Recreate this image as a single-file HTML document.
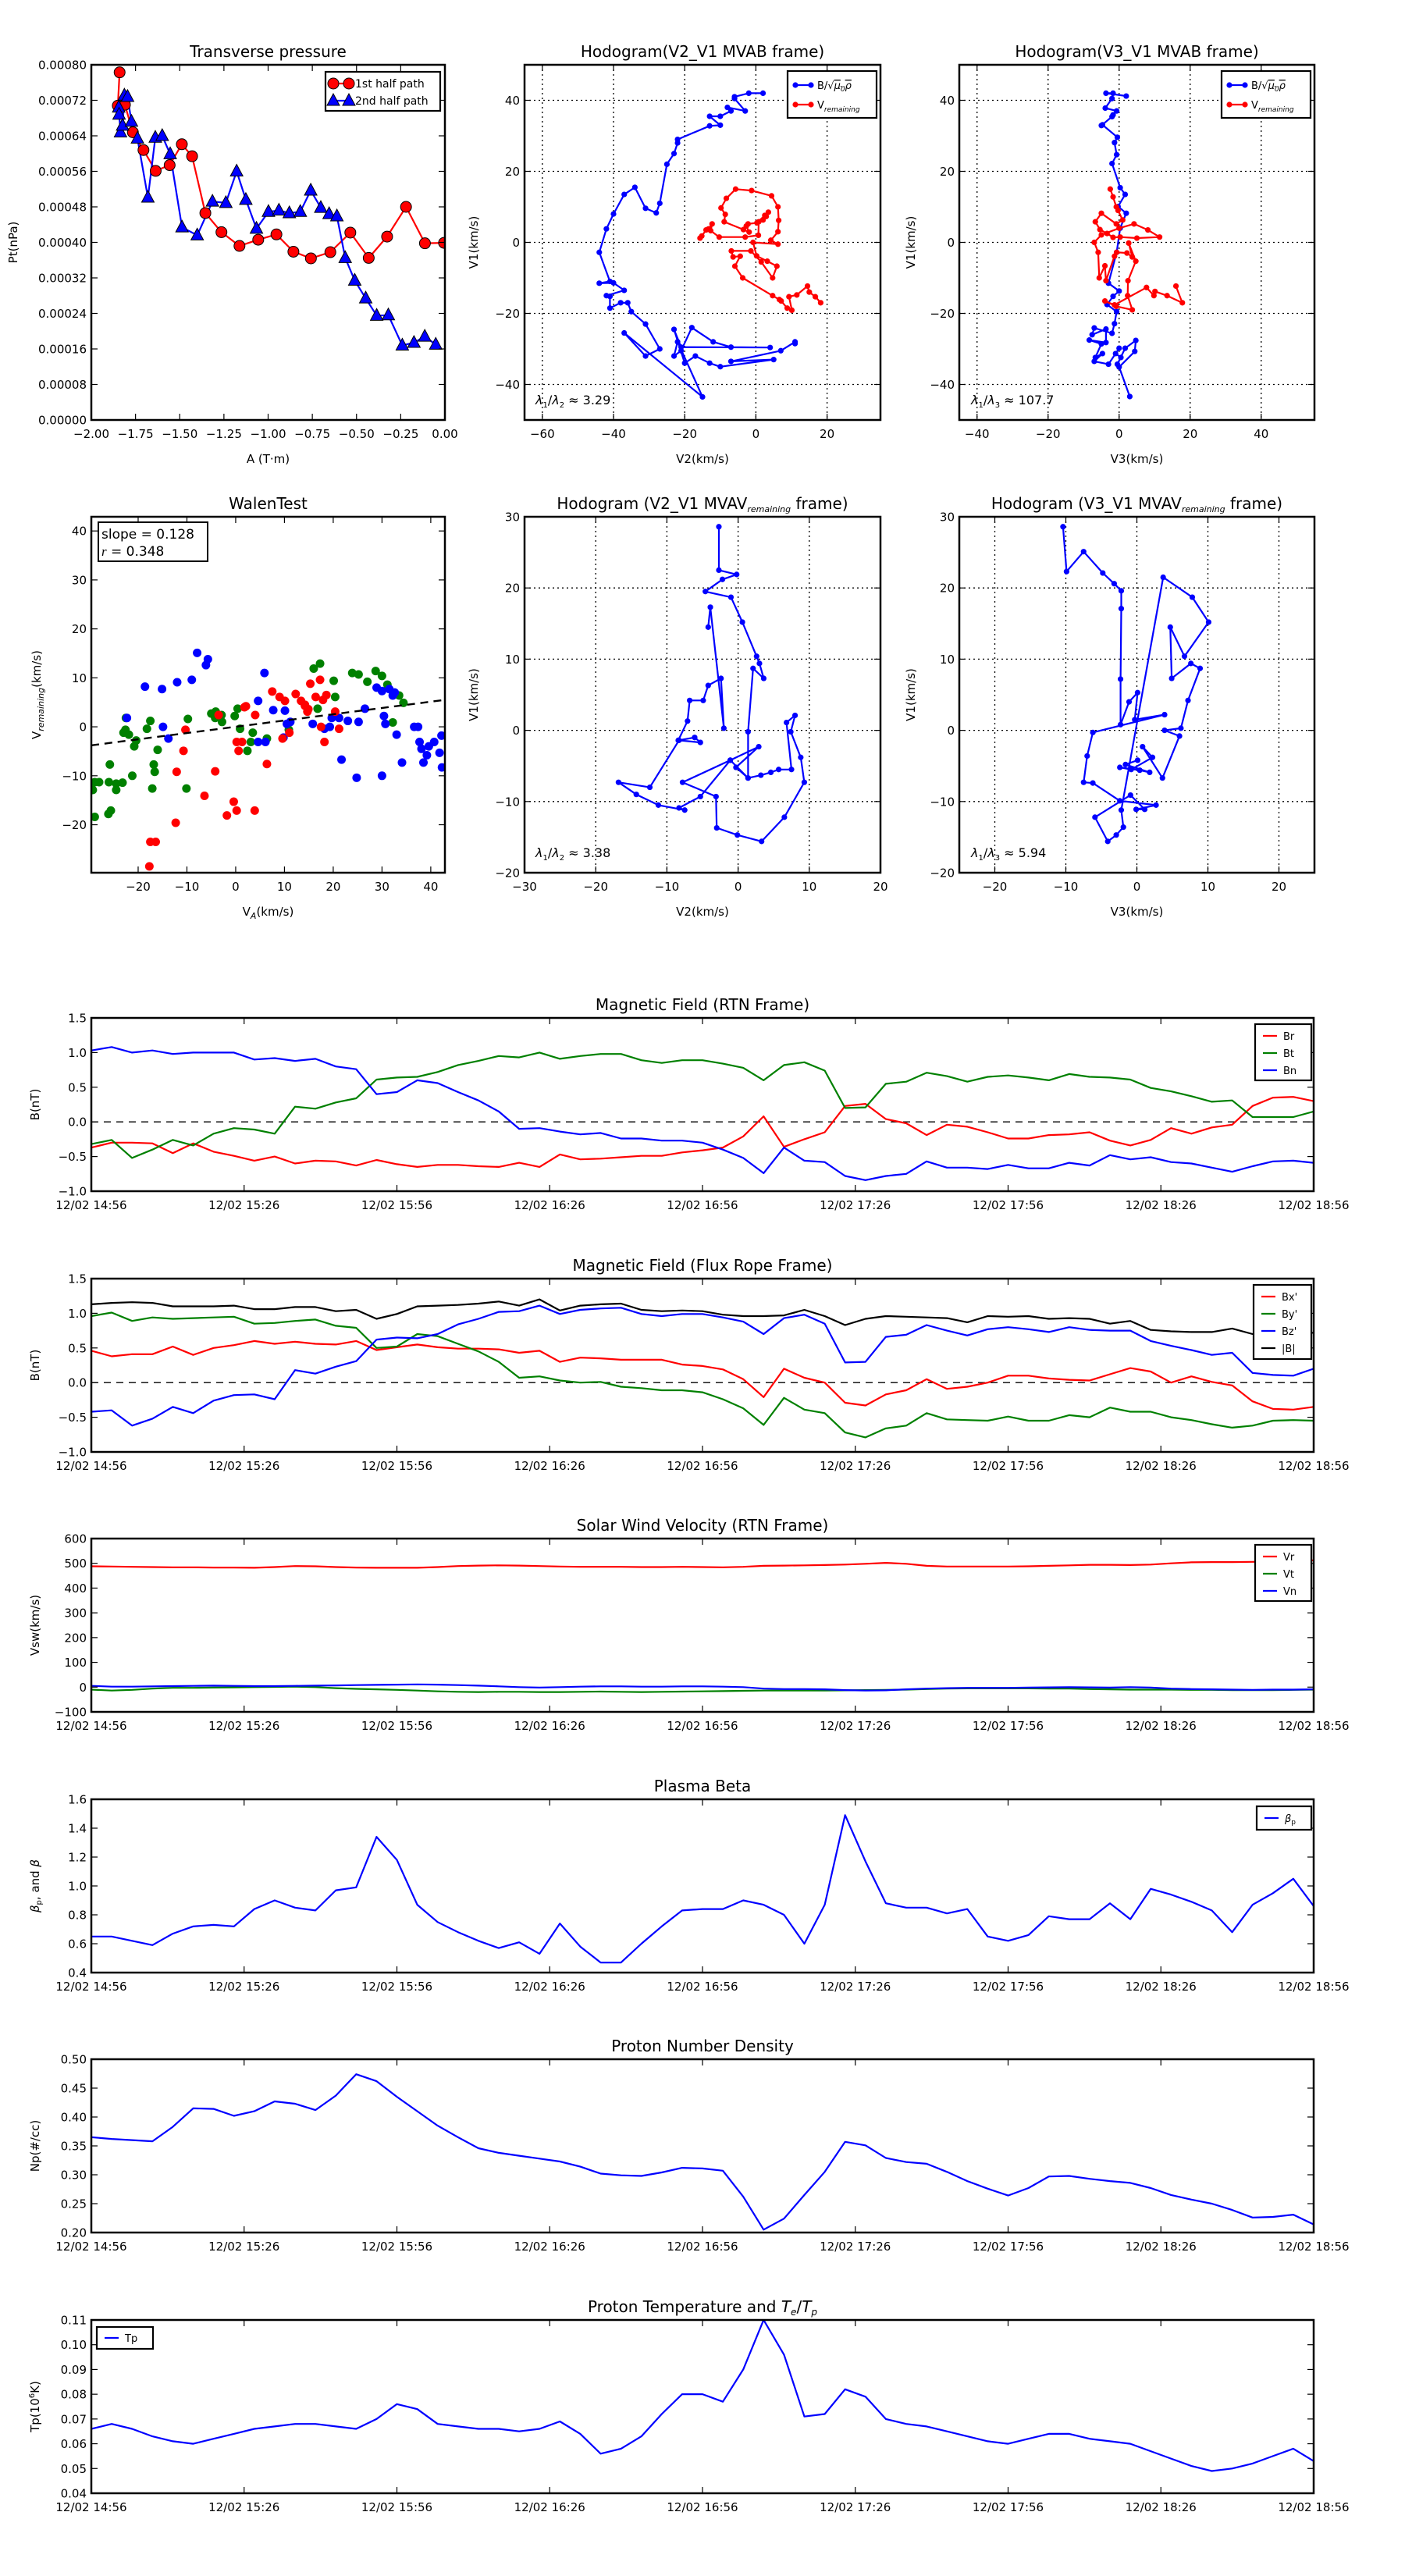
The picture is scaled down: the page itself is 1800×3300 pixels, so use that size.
<!DOCTYPE html>
<html><head><meta charset="utf-8"><style>
html,body{margin:0;padding:0;background:#fff;}
svg{display:block;font-family:"DejaVu Sans","Liberation Sans",sans-serif;}
</style></head><body>
<svg id="fig" width="1800" height="3300" viewBox="0 0 1800 3300"></svg>
<script>
// ---------- data ----------
const ptA1=[-1.84,-1.85,-1.81,-1.765,-1.705,-1.636,-1.557,-1.488,-1.43,-1.355,-1.264,-1.162,-1.056,-0.953,-0.857,-0.758,-0.648,-0.535,-0.431,-0.327,-0.22,-0.113,-0.005];
const ptP1=[0.000783,0.000708,0.00071,0.000648,0.000608,0.000561,0.000574,0.000621,0.000594,0.000466,0.000423,0.000392,0.000406,0.000418,0.000379,0.000364,0.000378,0.000422,0.000365,0.000413,0.00048,0.000398,0.000399];
const ptA2=[-1.845,-1.843,-1.835,-1.823,-1.813,-1.795,-1.773,-1.739,-1.68,-1.638,-1.599,-1.554,-1.487,-1.401,-1.315,-1.239,-1.178,-1.126,-1.066,-0.998,-0.939,-0.88,-0.818,-0.759,-0.702,-0.655,-0.611,-0.564,-0.51,-0.448,-0.386,-0.32,-0.241,-0.175,-0.114,-0.052];
const ptP2=[0.000704,0.000688,0.000648,0.000663,0.000731,0.000728,0.000672,0.000634,0.000501,0.000636,0.00064,0.000599,0.000434,0.000416,0.000492,0.000489,0.00056,0.000496,0.000431,0.000469,0.000472,0.000466,0.000469,0.000517,0.000478,0.000464,0.000459,0.000365,0.000314,0.000274,0.000235,0.000236,0.000168,0.000174,0.000188,0.00017];

const h2bV2=[2,-2,-6,-6,-3,-8,-7,-10,-13,-10,-13,-22,-22,-23,-25,-27,-28,-31,-34,-37,-40,-42,-44,-41,-44,-40,-37,-42,-41,-41,-38,-36,-35,-31,-27,-31,-37,-15,-22,-23,-21,-18,-12,-7,4,-21,-23,-20,-17,-13,-10,5,-7,7,11,11];
const h2bV1=[42,42,41,40.5,37,38,37,35.5,35.5,33,32.8,29,28,25,22,11,8.3,9.6,15.5,13.5,8,3.8,-2.8,-11,-11.5,-11.4,-13.5,-15,-15.2,-18.5,-17,-17,-19.5,-23,-30,-32,-25.5,-43.5,-28,-32,-30.5,-24,-28,-29.5,-29.6,-29.5,-24.5,-34,-32,-34,-35,-33,-33.5,-30.5,-28,-28.5];
const h2vV2=[-15.7,-15.2,-14,-13.3,-12.3,-12.7,-10.3,-3,0.7,0.8,2,2.9,3.5,2.5,0.3,-2.2,-2.7,-1.9,-3.5,-8.9,-8.6,-9.8,-8.3,-5.7,-1.2,4.4,6.2,6.4,6.2,4.2,6.2,-0.8,0.2,3.2,5.9,4.7,1.5,-1.4,-6.9,-6.4,-4.4,-5.9,-3.7,4.7,6.6,7.1,8.8,10.1,9.3,11.5,14.5,15,16.7,18.2];
const h2vV1=[1.2,1.8,3.5,3.8,5.2,3.3,1.5,1.5,2,5.8,6.3,7.3,8.5,7.6,5.5,5.2,4.6,2.9,3.6,5.8,7.9,9.7,12.4,15,14.6,13.1,10,6.2,3,0.6,-0.5,0,-3.8,-5.3,-6.7,-10,-5.5,-2.4,-2.4,-4.1,-3.9,-6.7,-10,-15,-16.1,-16.5,-18.5,-19.1,-15.3,-14.8,-12.3,-14,-15.3,-17];
const h3bV3=[2,-3.7,-1.7,-2,-3.9,-0.7,-1.7,-2,-5,-4.7,-0.5,-1.3,-0.7,-2,0.3,1.7,-0.3,2,0.3,-0.7,-3,0,-1.7,-3.4,-0.7,-1.3,-2,-7,-7.6,-3.7,-3.7,-8.4,-5,-6.7,-4.7,-7,-3,0,-1,0.5,-0.5,1.7,4.7,4.4,0,3];
const h3bV1=[41.2,42,42,40.5,37.8,37,35.9,35.4,32.9,33.1,29.6,28.1,24.7,22.2,15.4,13.5,10.1,8.2,4,-2.8,-11.5,-13.7,-15.2,-17.5,-19.5,-22.9,-25.6,-24.1,-26,-24.4,-28.2,-27.5,-28.6,-32.4,-31.3,-33.5,-34.3,-29.8,-31.3,-32.4,-34.3,-29.8,-27.6,-30.7,-35.1,-43.4];
const h3vV3=[-2.5,-1.7,-0.8,-0.3,1,-0.8,-5,-6.7,-5.4,-3.4,-1.7,0.3,5,11.4,8.1,4.2,0,-5,-7,-5.9,-5.6,-4,-3.7,-1.3,-0.7,2.2,3.7,2.7,4.7,2.5,2.4,3.7,-0.8,-4,-1.3,7.7,9.8,10.1,13.5,17.8,16];
const h3vV1=[15,12.8,10,9,6.3,5.2,8.2,5.8,3.6,2.5,1.4,1.5,1.2,1.5,3.5,5.2,4,2.1,0,-2.8,-10,-6.6,-10.8,-3.9,-2.8,-3,-4.1,-0.2,-5.3,-10.8,-15,-19,-18,-16.5,-17.6,-12.7,-15,-13.8,-15,-17,-12.3];

const wGreenVA=[-28.9,-28,-29.3,-25.8,-26,-24.5,-23.2,-24.5,-28.9,-26.1,-25.6,-21.2,-23,-22.6,-21.9,-20.8,-20.4,-18.2,-17.5,-16,-16.8,-16.6,-17.1,-10.1,-9.8,-5,-4.1,-2.9,-2.8,-4.2,-0.2,0.4,0.9,2.4,3.1,3.5,6.4,16,17.3,20.4,16.8,20.1,23.9,25.2,27,28.7,30,31.1,33.5,34.4,32.2,10.9,-22.5];
const wGreenV=[-11.3,-11.3,-12.9,-7.7,-11.3,-12.9,-11.4,-11.6,-18.4,-17.8,-17.1,-10,-1.2,-0.6,-1.6,-4,-2.8,-0.4,1.2,-4.7,-7.7,-9.2,-12.6,-12.6,1.6,2.7,3.1,2.4,1,1.8,2.2,3.7,-0.4,-4.9,-3.1,-1.2,-2.4,11.9,12.9,6.1,3.7,9.4,11,10.7,9.2,11.4,10.4,8.6,6.4,4.9,0.9,-0.6,1.8];
const wBlueVA=[-7.9,-5.7,-6.1,-9,-12,-15.1,-18.6,-22.3,-14.9,-13.8,5.9,4.6,7.7,10.1,6.1,4.6,9.8,10.5,11.2,19.3,21.2,23,25.2,21.7,24.8,26.5,28.9,30,31.5,32.2,32.6,30.4,30.7,33,30,34.1,36.6,37.4,37.7,38.1,38.5,39.2,39.6,40.7,41.8,42.2,42.3,19.7,18.2,15.8];
const wBlueV=[15.1,13.8,12.6,9.6,9.1,7.7,8.2,1.8,0,-2.4,11,5.3,3.4,3.3,-3.1,-3.1,-2.2,0.6,1,0,1.8,1.2,1,-6.7,-10.4,3.7,8,7.3,7.7,6.4,7,2.2,0.6,-1.6,-10,-7.3,0,0,-3.1,-4.5,-7.3,-5.8,-4,-3.1,-5.3,-1.8,-8.3,1.8,-0.4,0.6];
const wRedVA=[-17.7,-17.5,-16.4,-12.3,-12.1,-10.7,-10.3,-6.4,-4.2,-1.8,-0.4,0.2,3.9,0.2,1.3,0.6,1.8,6.4,7.5,9,10.1,9.6,11,12.3,13.4,14.2,14.9,15.3,17.3,16.4,17.9,18.6,20.4,17.5,18.2,21.2,14.7,14.2,-3.5,2.1,4];
const wRedV=[-28.5,-23.5,-23.5,-19.6,-9.2,-4.9,-0.6,-14.1,-9.1,-18.1,-15.3,-17.1,-17.1,-3.1,-3.1,-4.9,4,-7.6,7.2,6.1,5.3,-2.4,-1.2,6.7,5.3,4.3,3.6,8.8,9.6,6.1,5.5,6.5,3.1,0,-3.1,-0.4,3.1,4.5,2.4,4.2,2.4];
const walenSlope=0.128, walenIntercept=0.0;

const r2V2=[-2.7,-2.7,-0.2,-2.2,-4.6,-1,0.6,2.6,3,3.6,2.1,1.4,1.4,-0.3,2.9,-1.1,-7.8,-3.1,-3,-0.1,3.3,6.5,9.3,8.8,7.4,8,6.8,7.5,5.7,4.6,3.2,1.4,-1.1,-5.3,-8.3,-7.5,-11.2,-14.3,-16.8,-12.4,-8.3,-5.3,-6.1,-8.4,-7.1,-6.8,-4.9,-4.2,-2.4,-2,-3.9,-4.2];
const r2V1=[28.6,22.5,21.9,21.2,19.5,18.7,15.2,10.4,9.4,7.3,8.7,-0.2,-6.7,-5.2,-2.3,-4.2,-7.3,-9.3,-13.7,-14.7,-15.6,-12.2,-7.3,-3.8,-0.2,2.1,1.1,-5.5,-5.5,-5.9,-6.3,-6.7,-4.2,-9.3,-10.9,-11.2,-10.5,-9,-7.3,-8,-1.4,-1.7,-1,-1.4,1.3,4.2,4.2,6.3,7.3,0.3,17.3,14.5];
const r3V3=[-10.4,-9.9,-7.5,-4.8,-3.2,-2.2,-2.2,-2.3,-2.3,-1.1,0.1,-0.3,3.9,-6.2,-7,-7.5,-6.2,-2.4,2.7,-0.1,1.1,-0.9,-5.9,-4.1,-2.9,-1.9,-2.2,3.7,7.8,10.1,6.7,4.7,4.9,7.6,8.9,7.2,6.2,3.9,6,3.6,0.8,2.2,-0.8,-2.4,0.4,1.8,-1.6,0.1];
const r3V1=[28.6,22.3,25.1,22.1,20.6,19.6,17.1,7.2,0.8,4,5.3,1.5,2.2,-0.3,-3.6,-7.3,-7.4,-9.9,-10.5,-11.1,-11.1,-9.1,-12.2,-15.6,-14.7,-13.6,-11.2,21.5,18.7,15.2,10.4,14.5,7.3,9.4,8.7,4.2,0.3,0,-0.8,-6.7,-2.3,-3.8,-5.5,-5.2,-5.6,-5.9,-4.8,-4.2];

const timeTickLabels=["12/02 14:56","12/02 15:26","12/02 15:56","12/02 16:26","12/02 16:56","12/02 17:26","12/02 17:56","12/02 18:26","12/02 18:56"];
const Br=[-0.37,-0.3,-0.3,-0.31,-0.45,-0.31,-0.43,-0.49,-0.56,-0.5,-0.6,-0.56,-0.57,-0.63,-0.55,-0.61,-0.65,-0.62,-0.62,-0.64,-0.65,-0.59,-0.65,-0.47,-0.54,-0.53,-0.51,-0.49,-0.49,-0.44,-0.41,-0.37,-0.21,0.08,-0.36,-0.25,-0.15,0.23,0.26,0.04,-0.02,-0.19,-0.04,-0.07,-0.15,-0.24,-0.24,-0.19,-0.18,-0.15,-0.27,-0.34,-0.26,-0.09,-0.17,-0.08,-0.04,0.23,0.35,0.36,0.3];
const Bt=[-0.32,-0.26,-0.52,-0.4,-0.26,-0.34,-0.17,-0.09,-0.11,-0.17,0.22,0.19,0.28,0.34,0.61,0.64,0.65,0.72,0.82,0.88,0.95,0.93,1.0,0.91,0.95,0.98,0.98,0.89,0.85,0.89,0.89,0.84,0.78,0.6,0.82,0.86,0.74,0.2,0.21,0.55,0.58,0.71,0.66,0.58,0.65,0.67,0.64,0.6,0.69,0.65,0.64,0.61,0.49,0.44,0.37,0.29,0.31,0.07,0.07,0.07,0.15];
const Bn=[1.03,1.08,1.0,1.03,0.98,1.0,1.0,1.0,0.9,0.92,0.88,0.91,0.8,0.76,0.4,0.43,0.6,0.56,0.43,0.31,0.15,-0.1,-0.09,-0.14,-0.18,-0.16,-0.24,-0.24,-0.27,-0.27,-0.3,-0.4,-0.52,-0.74,-0.37,-0.56,-0.58,-0.78,-0.84,-0.78,-0.75,-0.57,-0.66,-0.66,-0.68,-0.62,-0.67,-0.67,-0.59,-0.63,-0.48,-0.54,-0.51,-0.58,-0.6,-0.66,-0.72,-0.64,-0.57,-0.56,-0.59];
const Bx=[0.46,0.38,0.41,0.41,0.52,0.4,0.5,0.54,0.6,0.56,0.59,0.56,0.55,0.6,0.47,0.51,0.55,0.51,0.49,0.49,0.48,0.43,0.46,0.3,0.36,0.35,0.33,0.33,0.33,0.26,0.24,0.19,0.05,-0.21,0.2,0.07,0.0,-0.29,-0.33,-0.17,-0.11,0.05,-0.09,-0.06,0.0,0.1,0.1,0.06,0.04,0.03,0.12,0.21,0.16,0.0,0.09,0.01,-0.04,-0.27,-0.38,-0.39,-0.35];
const By=[0.96,1.01,0.89,0.94,0.92,0.93,0.94,0.95,0.85,0.86,0.89,0.91,0.82,0.79,0.5,0.52,0.7,0.67,0.56,0.45,0.3,0.07,0.09,0.03,0.0,0.01,-0.06,-0.08,-0.11,-0.11,-0.14,-0.24,-0.37,-0.61,-0.22,-0.39,-0.44,-0.72,-0.79,-0.66,-0.62,-0.44,-0.53,-0.54,-0.55,-0.49,-0.55,-0.55,-0.47,-0.5,-0.36,-0.42,-0.42,-0.5,-0.54,-0.6,-0.65,-0.62,-0.55,-0.54,-0.55];
const Bz=[-0.42,-0.4,-0.62,-0.52,-0.35,-0.44,-0.26,-0.18,-0.17,-0.24,0.18,0.13,0.23,0.31,0.62,0.65,0.64,0.7,0.84,0.92,1.02,1.03,1.11,0.99,1.05,1.07,1.08,0.99,0.96,0.99,0.99,0.94,0.88,0.7,0.93,0.98,0.85,0.29,0.3,0.66,0.69,0.83,0.75,0.68,0.77,0.8,0.77,0.73,0.8,0.76,0.75,0.75,0.6,0.53,0.47,0.4,0.43,0.14,0.11,0.1,0.2];
const Bmag=[1.13,1.15,1.16,1.15,1.1,1.1,1.1,1.11,1.06,1.06,1.09,1.09,1.03,1.05,0.92,0.99,1.1,1.11,1.12,1.14,1.17,1.11,1.2,1.04,1.11,1.13,1.14,1.05,1.03,1.04,1.03,0.98,0.96,0.96,0.97,1.05,0.96,0.83,0.92,0.96,0.95,0.94,0.93,0.87,0.96,0.95,0.96,0.92,0.93,0.92,0.85,0.89,0.76,0.74,0.73,0.73,0.78,0.7,0.72,0.7,0.72];
const Vr=[488,487,486,485,484,484,483,483,482,485,489,488,485,483,482,482,482,485,489,491,492,491,489,487,486,486,486,485,485,486,485,484,486,490,491,492,493,495,498,502,498,490,487,487,487,487,488,490,492,494,494,493,495,500,504,505,505,506,507,510,512];
const Vt=[-10,-14,-11,-6,-3,-3,-2,-1,0,1,2,0,-4,-7,-9,-11,-14,-17,-19,-20,-19,-19,-20,-20,-19,-18,-19,-20,-19,-18,-17,-16,-15,-14,-14,-14,-14,-13,-12,-11,-10,-8,-6,-5,-5,-5,-5,-6,-6,-8,-9,-10,-10,-10,-11,-11,-12,-12,-12,-11,-10];
const Vn=[5,2,2,3,4,5,6,5,4,4,5,6,7,8,9,10,11,10,8,6,3,0,-2,0,2,3,3,2,2,3,3,2,0,-6,-8,-8,-9,-12,-14,-13,-9,-6,-4,-3,-3,-3,-2,-1,0,-1,-2,0,-2,-6,-8,-9,-10,-11,-10,-10,-9];
const betaP=[0.65,0.65,0.62,0.59,0.67,0.72,0.73,0.72,0.84,0.9,0.85,0.83,0.97,0.99,1.34,1.18,0.87,0.75,0.68,0.62,0.57,0.61,0.53,0.74,0.58,0.47,0.47,0.6,0.72,0.83,0.84,0.84,0.9,0.87,0.8,0.6,0.87,1.49,1.17,0.88,0.85,0.85,0.81,0.84,0.65,0.62,0.66,0.79,0.77,0.77,0.88,0.77,0.98,0.94,0.89,0.83,0.68,0.87,0.95,1.05,0.86];
const Np=[0.365,0.362,0.36,0.358,0.383,0.415,0.414,0.402,0.41,0.427,0.423,0.412,0.437,0.474,0.462,0.435,0.41,0.385,0.365,0.346,0.338,0.333,0.328,0.323,0.314,0.302,0.299,0.298,0.304,0.312,0.311,0.307,0.262,0.205,0.224,0.265,0.305,0.357,0.351,0.329,0.322,0.319,0.305,0.289,0.276,0.264,0.277,0.297,0.298,0.293,0.289,0.286,0.277,0.265,0.257,0.25,0.239,0.226,0.227,0.231,0.214];
const Tp=[0.066,0.068,0.066,0.063,0.061,0.06,0.062,0.064,0.066,0.067,0.068,0.068,0.067,0.066,0.07,0.076,0.074,0.068,0.067,0.066,0.066,0.065,0.066,0.069,0.064,0.056,0.058,0.063,0.072,0.08,0.08,0.077,0.09,0.11,0.096,0.071,0.072,0.082,0.079,0.07,0.068,0.067,0.065,0.063,0.061,0.06,0.062,0.064,0.064,0.062,0.061,0.06,0.057,0.054,0.051,0.049,0.05,0.052,0.055,0.058,0.053];
const sampleMinutes=4;

// ---------- helpers ----------
const NS='http://www.w3.org/2000/svg';
const svg=document.getElementById('fig');
function mk(tag,parent){const e=document.createElementNS(NS,tag);parent.appendChild(e);return e;}
function at(e,o){for(const k in o)e.setAttribute(k,o[k]);return e;}
function fmtNum(v,d){const s=Math.abs(v).toFixed(d);return (v<-1e-12?'\u2212':'')+s;}
let clipN=0;
function makeAxes(s){
  const g=mk('g',svg);
  
  
  const W=s.x1-s.x0,H=s.y1-s.y0;
  const sx=v=>s.x0+(v-s.xl[0])/(s.xl[1]-s.xl[0])*W;
  const sy=v=>s.y1-(v-s.yl[0])/(s.yl[1]-s.yl[0])*H;
  const cid='clip'+(clipN++);
  const cp=at(mk('clipPath',g),{id:cid});
  at(mk('rect',cp),{x:s.x0,y:s.y0,width:W,height:H});
  if(s.grid){
    s.xt.forEach(v=>{const l=at(mk('line',g),{x1:sx(v),x2:sx(v),y1:s.y0,y2:s.y1,stroke:'#000','stroke-width':1.3,'stroke-dasharray':'2,4'});
      
      });
    s.yt.forEach(v=>{const l=at(mk('line',g),{x1:s.x0,x2:s.x1,y1:sy(v),y2:sy(v),stroke:'#000','stroke-width':1.3,'stroke-dasharray':'2,4'});
      
      });
  }
  const data=at(mk('g',g),{'clip-path':'url(#'+cid+')'});
  
  
  const ticks=mk('g',g);
  
  
  s.xt.forEach((v,i)=>{const x=sx(v);
    at(mk('line',ticks),{x1:x,x2:x,y1:s.y1,y2:s.y1-8,stroke:'#000','stroke-width':1.2});
    at(mk('line',ticks),{x1:x,x2:x,y1:s.y0,y2:s.y0+8,stroke:'#000','stroke-width':1.2});
    const t=at(mk('text',ticks),{x:x,y:s.y1+23,'text-anchor':'middle','font-size':15});
    t.textContent=s.xlab?s.xlab[i]:fmtNum(v,s.xd);
    
    });
  s.yt.forEach(v=>{const y=sy(v);
    at(mk('line',ticks),{x1:s.x0,x2:s.x0+8,y1:y,y2:y,stroke:'#000','stroke-width':1.2});
    at(mk('line',ticks),{x1:s.x1,x2:s.x1-8,y1:y,y2:y,stroke:'#000','stroke-width':1.2});
    const t=at(mk('text',ticks),{x:s.x0-6,y:y+5.5,'text-anchor':'end','font-size':15});
    t.textContent=fmtNum(v,s.yd);
    
    });
  const fr=at(mk('rect',g),{x:s.x0,y:s.y0,width:W,height:H,fill:'none',stroke:'#000','stroke-width':2.5});
  
  
  const tt=at(mk('text',g),{x:(s.x0+s.x1)/2,y:s.y0-10,'text-anchor':'middle','font-size':20});
  tt.innerHTML=s.title;
  
  
  if(s.xlabel){const t=at(mk('text',g),{x:(s.x0+s.x1)/2,y:s.y1+55,'text-anchor':'middle','font-size':15});
    t.innerHTML=s.xlabel;
    
    }
  if(s.ylabel){const cx=s.ylx,cy=(s.y0+s.y1)/2;const t=at(mk('text',g),{x:cx,y:cy,'text-anchor':'middle','font-size':15,transform:'rotate(-90 '+cx+' '+cy+')'});
    t.innerHTML=s.ylabel;
    
    }
  return {g,data,sx,sy};
}
function line(ax,xs,ys,color,name,w){
  const p=at(mk('polyline',ax.data),{points:xs.map((x,i)=>ax.sx(x).toFixed(1)+','+ax.sy(ys[i]).toFixed(1)).join(' '),fill:'none',stroke:color,'stroke-width':w||2.2,'stroke-linejoin':'round'});
  
  
  return p;
}
function dots(ax,xs,ys,color,r,name,stroke){
  const g=mk('g',ax.data);
  
  
  xs.forEach((x,i)=>{at(mk('circle',g),{cx:ax.sx(x),cy:ax.sy(ys[i]),r:r,fill:color,stroke:stroke||'none','stroke-width':1});});
}
function tris(ax,xs,ys,color,name){
  const g=mk('g',ax.data);
  
  
  xs.forEach((x,i)=>{const cx=ax.sx(x),cy=ax.sy(ys[i]);
    at(mk('polygon',g),{points:(cx)+','+(cy-9)+' '+(cx-8)+','+(cy+6)+' '+(cx+8)+','+(cy+6),fill:color,stroke:'#000','stroke-width':1});});
}
function legend(ax,x,y,w,h,entries,name,fs){
  const g=mk('g',ax.g);
  
  
  at(mk('rect',g),{x:x,y:y,width:w,height:h,fill:'#fff',stroke:'#000','stroke-width':2.2});
  entries.forEach((e,i)=>{const yy=y+e.dy;
    const le=mk('g',g);
    
    
    at(mk('line',le),{x1:x+10,x2:x+10+e.len,y1:yy,y2:yy,stroke:e.c,'stroke-width':2.2});
    if(e.m==='o'){[x+10,x+10+e.len].forEach(cx=>at(mk('circle',le),{cx:cx,cy:yy,r:e.r,fill:e.c,stroke:e.ms||'none'}));}
    if(e.m==='^'){[x+10,x+10+e.len].forEach(cx=>at(mk('polygon',le),{points:cx+','+(yy-9)+' '+(cx-8)+','+(yy+6)+' '+(cx+8)+','+(yy+6),fill:e.c,stroke:'#000'}));}
    const t=at(mk('text',le),{x:x+18+e.len,y:yy+5,'font-size':fs||15});
    t.innerHTML=e.t;});
}
function note(ax,x,y,html,name,fs){const t=at(mk('text',ax.g),{x:x,y:y,'font-size':fs||16});
  t.innerHTML=html;
  
  }
function range(a,b,s){const r=[];for(let v=a;v<=b+1e-9;v+=s)r.push(+v.toFixed(8));return r;}

// ---------- row 1 ----------
const pt=makeAxes({name:'transverse-pressure-chart',x0:117,x1:570,y0:83,y1:538,xl:[-2,0],yl:[0,0.0008],xt:range(-2,0,0.25),yt:range(0,0.0008,0.00008),xd:2,yd:5,title:'Transverse pressure',xlabel:'A (T\u00B7m)',ylabel:'Pt(nPa)',ylx:22});
line(pt,ptA1,ptP1,'#ff0000','first-half-line');
line(pt,ptA2,ptP2,'#0000ff','second-half-line');
dots(pt,ptA1,ptP1,'#ff0000',7,'first-half-markers','#000');
tris(pt,ptA2,ptP2,'#0000ff','second-half-markers');
legend(pt,417,92,147,50,[{c:'#ff0000',m:'o',r:7,ms:'#000',len:20,dy:15,t:'1st half path'},{c:'#0000ff',m:'^',len:20,dy:37,t:'2nd half path'}],'pressure-legend',14);

const BL='B/\u221A<tspan style="text-decoration:overline" font-style="italic">\u03BC<tspan font-size="9" dy="3">0</tspan><tspan dy="-3">\u03C1</tspan></tspan>';
const VL='V<tspan font-size="9" dy="4" font-style="italic">remaining</tspan>';
const h2=makeAxes({name:'hodogram-v2-v1-mvab',x0:672,x1:1128,y0:83,y1:538,xl:[-65,35],yl:[-50,50],xt:range(-60,20,20),yt:range(-40,40,20),xd:0,yd:0,grid:true,title:'Hodogram(V2_V1 MVAB frame)',xlabel:'V2(km/s)',ylabel:'V1(km/s)',ylx:612});
line(h2,h2bV2,h2bV1,'#0000ff','b-hodogram-line');dots(h2,h2bV2,h2bV1,'#0000ff',3.6,'b-hodogram-points');
line(h2,h2vV2,h2vV1,'#ff0000','v-hodogram-line');dots(h2,h2vV2,h2vV1,'#ff0000',3.6,'v-hodogram-points');
legend(h2,1009,91,114,60,[{c:'#0000ff',m:'o',r:3.6,len:20,dy:18,t:BL},{c:'#ff0000',m:'o',r:3.6,len:20,dy:43,t:VL}],'hodogram-legend',13);
note(h2,686,518,'<tspan font-style="italic">\u03BB</tspan><tspan font-size="10" dy="4">1</tspan><tspan dy="-4">/</tspan><tspan font-style="italic">\u03BB</tspan><tspan font-size="10" dy="4">2</tspan><tspan dy="-4"> \u2248 3.29</tspan>','eigenvalue-ratio');

const h3=makeAxes({name:'hodogram-v3-v1-mvab',x0:1229,x1:1684,y0:83,y1:538,xl:[-45,55],yl:[-50,50],xt:range(-40,40,20),yt:range(-40,40,20),xd:0,yd:0,grid:true,title:'Hodogram(V3_V1 MVAB frame)',xlabel:'V3(km/s)',ylabel:'V1(km/s)',ylx:1172});
line(h3,h3bV3,h3bV1,'#0000ff','b-hodogram-line');dots(h3,h3bV3,h3bV1,'#0000ff',3.6,'b-hodogram-points');
line(h3,h3vV3,h3vV1,'#ff0000','v-hodogram-line');dots(h3,h3vV3,h3vV1,'#ff0000',3.6,'v-hodogram-points');
legend(h3,1565,91,114,60,[{c:'#0000ff',m:'o',r:3.6,len:20,dy:18,t:BL},{c:'#ff0000',m:'o',r:3.6,len:20,dy:43,t:VL}],'hodogram-legend',13);
note(h3,1244,518,'<tspan font-style="italic">\u03BB</tspan><tspan font-size="10" dy="4">1</tspan><tspan dy="-4">/</tspan><tspan font-style="italic">\u03BB</tspan><tspan font-size="10" dy="4">3</tspan><tspan dy="-4"> \u2248 107.7</tspan>','eigenvalue-ratio');

// ---------- row 2 ----------
const wl=makeAxes({name:'walen-test-chart',x0:117,x1:570,y0:662,y1:1118,xl:[-29.6,42.9],yl:[-29.8,42.9],xt:range(-20,40,10),yt:range(-20,40,10),xd:0,yd:0,title:'WalenTest',xlabel:'V<tspan font-size="11" dy="4" font-style="italic">A</tspan><tspan dy="-4">(km/s)</tspan>',ylabel:'V<tspan font-size="11" dy="4" font-style="italic">remaining</tspan><tspan dy="-4">(km/s)</tspan>',ylx:52});
dots(wl,wGreenVA,wGreenV,'#008000',5.5,'walen-green-points');
dots(wl,wBlueVA,wBlueV,'#0000ff',5.5,'walen-blue-points');
dots(wl,wRedVA,wRedV,'#ff0000',5.5,'walen-red-points');
const fitX=[-29.6,42.9];
const fl=line(wl,fitX,fitX.map(x=>walenSlope*x+walenIntercept),'#000','walen-fit-line',2.4);
fl.setAttribute('stroke-dasharray','10,7');
(function(){const g=mk('g',wl.g);


at(mk('rect',g),{x:126,y:669,width:140,height:50,fill:'#fff',stroke:'#000','stroke-width':2});
const a=at(mk('text',g),{x:130,y:690,'font-size':17});a.textContent='slope = 0.128';
const b=at(mk('text',g),{x:130,y:712,'font-size':17});b.innerHTML='<tspan font-style="italic" font-family="Liberation Serif, serif">r</tspan> = 0.348';})();

const RL='<tspan font-size="11" dy="4" font-style="italic">remaining</tspan><tspan dy="-4">';
const q2=makeAxes({name:'hodogram-v2-v1-mvav',x0:672,x1:1128,y0:662,y1:1118,xl:[-30,20],yl:[-20,30],xt:range(-30,20,10),yt:range(-20,30,10),xd:0,yd:0,grid:true,title:'Hodogram (V2_V1 MVAV'+RL+' frame)</tspan>',xlabel:'V2(km/s)',ylabel:'V1(km/s)',ylx:612});
line(q2,r2V2,r2V1,'#0000ff','hodogram-line');dots(q2,r2V2,r2V1,'#0000ff',3.6,'hodogram-points');
note(q2,686,1098,'<tspan font-style="italic">\u03BB</tspan><tspan font-size="10" dy="4">1</tspan><tspan dy="-4">/</tspan><tspan font-style="italic">\u03BB</tspan><tspan font-size="10" dy="4">2</tspan><tspan dy="-4"> \u2248 3.38</tspan>','eigenvalue-ratio');
const q3=makeAxes({name:'hodogram-v3-v1-mvav',x0:1229,x1:1684,y0:662,y1:1118,xl:[-25,25],yl:[-20,30],xt:range(-20,20,10),yt:range(-20,30,10),xd:0,yd:0,grid:true,title:'Hodogram (V3_V1 MVAV'+RL+' frame)</tspan>',xlabel:'V3(km/s)',ylabel:'V1(km/s)',ylx:1172});
line(q3,r3V3,r3V1,'#0000ff','hodogram-line');dots(q3,r3V3,r3V1,'#0000ff',3.6,'hodogram-points');
note(q3,1244,1098,'<tspan font-style="italic">\u03BB</tspan><tspan font-size="10" dy="4">1</tspan><tspan dy="-4">/</tspan><tspan font-style="italic">\u03BB</tspan><tspan font-size="10" dy="4">3</tspan><tspan dy="-4"> \u2248 5.94</tspan>','eigenvalue-ratio');

// ---------- time series ----------
const tTicks=timeTickLabels.map((_,i)=>i*30);
function ts(name,top,yl,yt,yd,title,ylabel){return makeAxes({name:name,x0:117,x1:1683,y0:top,y1:top+222,xl:[0,240],yl:yl,xt:tTicks,xlab:timeTickLabels,yt:yt,yd:yd,title:title,ylabel:ylabel,ylx:50});}
function tline(ax,arr,c,n){return line(ax,arr.map((_,i)=>i*sampleMinutes),arr,c,n);}
function zero(ax){const z=line(ax,[0,240],[0,0],'#000','zero-line',1.3);z.setAttribute('stroke-dasharray','9,7');}

const m1=ts('magnetic-field-rtn-chart',1304,[-1,1.5],range(-1,1.5,0.5),1,'Magnetic Field (RTN Frame)','B(nT)');
zero(m1);tline(m1,Br,'#ff0000','br-line');tline(m1,Bt,'#008000','bt-line');tline(m1,Bn,'#0000ff','bn-line');
legend(m1,1608,1312,72,72,[{c:'#ff0000',len:18,dy:15,t:'Br'},{c:'#008000',len:18,dy:37,t:'Bt'},{c:'#0000ff',len:18,dy:59,t:'Bn'}],'magnetic-rtn-legend',13);

const m2=ts('magnetic-field-flux-rope-chart',1638,[-1,1.5],range(-1,1.5,0.5),1,'Magnetic Field (Flux Rope Frame)','B(nT)');
zero(m2);tline(m2,Bx,'#ff0000','bx-line');tline(m2,By,'#008000','by-line');tline(m2,Bz,'#0000ff','bz-line');tline(m2,Bmag,'#000000','bmag-line');
legend(m2,1606,1646,74,95,[{c:'#ff0000',len:18,dy:15,t:"Bx'"},{c:'#008000',len:18,dy:37,t:"By'"},{c:'#0000ff',len:18,dy:59,t:"Bz'"},{c:'#000',len:18,dy:81,t:'|B|'}],'flux-rope-legend',13);

const v1=ts('solar-wind-velocity-chart',1971,[-100,600],range(-100,600,100),0,'Solar Wind Velocity (RTN Frame)','Vsw(km/s)');
tline(v1,Vr,'#ff0000','vr-line');tline(v1,Vt,'#008000','vt-line');tline(v1,Vn,'#0000ff','vn-line');
legend(v1,1608,1979,72,72,[{c:'#ff0000',len:18,dy:15,t:'Vr'},{c:'#008000',len:18,dy:37,t:'Vt'},{c:'#0000ff',len:18,dy:59,t:'Vn'}],'velocity-legend',13);

const b1=ts('plasma-beta-chart',2305,[0.4,1.6],range(0.4,1.6,0.2),1,'Plasma Beta','<tspan font-style="italic">\u03B2</tspan><tspan font-size="10" dy="3">p</tspan><tspan dy="-3">, and </tspan><tspan font-style="italic">\u03B2</tspan>');
tline(b1,betaP,'#0000ff','beta-p-line');
legend(b1,1610,2314,70,30,[{c:'#0000ff',len:18,dy:15,t:'<tspan font-style="italic">\u03B2</tspan><tspan font-size="9" dy="3">p</tspan>'}],'beta-legend',13);

const n1=ts('proton-density-chart',2638,[0.2,0.5],range(0.2,0.5,0.05),2,'Proton Number Density','Np(#/cc)');
tline(n1,Np,'#0000ff','np-line');

const t1=ts('proton-temperature-chart',2972,[0.04,0.11],range(0.04,0.11,0.01),2,'Proton Temperature and <tspan font-style="italic">T</tspan><tspan font-size="12" dy="4" font-style="italic">e</tspan><tspan dy="-4">/</tspan><tspan font-style="italic">T</tspan><tspan font-size="12" dy="4" font-style="italic">p</tspan>','Tp(10<tspan font-size="10" dy="-6">6</tspan><tspan dy="6">K)</tspan>');
tline(t1,Tp,'#0000ff','tp-line');
legend(t1,124,2981,72,28,[{c:'#0000ff',len:18,dy:14,t:'Tp'}],'temperature-legend',13);
</script>
</body></html>
